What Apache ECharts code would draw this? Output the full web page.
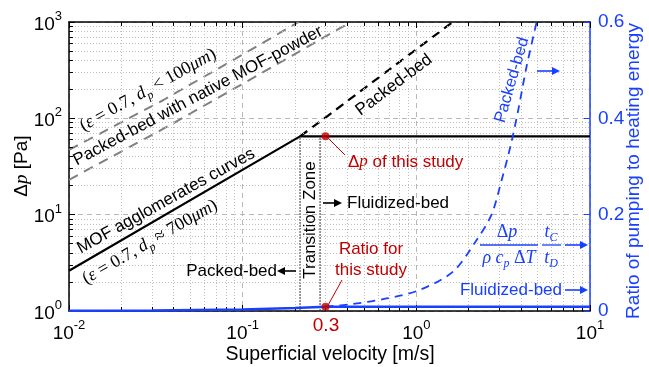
<!DOCTYPE html>
<html><head><meta charset="utf-8">
<script src="https://cdn.jsdelivr.net/npm/echarts@6/dist/echarts.min.js"></script>
<style>html,body{margin:0;padding:0;background:#fff}#c{width:649px;height:367px}</style>
</head><body><div id="c"></div>
<script>
// ---------- data ----------
const xTickValues = [0.01, 0.1, 1, 10];
const yTickValues = [1, 10, 100, 1000];
const ratioTickValues = [0, 0.2, 0.4, 0.6];

const mofAggX  = [0.01, 0.214, 10];
const mofAggDp = [2.62, 65, 65];

const packedBedX  = [0.214, 0.3, 0.5, 0.8, 1.2, 1.62];
const packedBedDp = [65, 102, 204, 385, 666, 1000];

const powderUpperX  = [0.01, 0.035, 0.1, 0.21];
const powderUpperDp = [47, 155, 460, 1000];
const powderLowerX  = [0.01, 0.035, 0.1, 0.42];
const powderLowerDp = [23, 78, 228, 1000];

const ratioPackedX = [0.3, 0.43, 0.675, 1.05, 1.63, 2.22, 2.71, 3.1, 3.5, 3.86, 4.31, 4.93];
const ratioPackedY = [0.009, 0.0145, 0.026, 0.044, 0.082, 0.147, 0.2, 0.272, 0.345, 0.417, 0.507, 0.6];

const ratioFluidX = [0.01, 0.03, 0.1, 0.2, 0.3, 10];
const ratioFluidY = [0.0003, 0.0009, 0.003, 0.006, 0.009, 0.009];

const transitionX = [0.214, 0.279];
const studyVelocity = 0.3;
const studyDp = 65;
const studyRatio = 0.009;

// ---------- styling ----------
const SANS = '"Liberation Sans", Arial, sans-serif';
const SERIF = '"Liberation Serif", "DejaVu Serif", serif';
const BLUE = '#1a40ff';
const RED = '#c00000';
const zip = (a, b) => a.map((v, i) => [v, b[i]]);

// minor grid positions (2..9 within each decade)
const xMinor = [], yMinor = [];
for (let e = -2; e < 1; e++) for (let m = 2; m <= 9; m++) xMinor.push(+(m * Math.pow(10, e)).toPrecision(3));
for (let e = 0; e < 3; e++) for (let m = 2; m <= 9; m++) yMinor.push(m * Math.pow(10, e));
const X0 = 0.01, X1 = 10, Y0 = 1, Y1 = 1000;
const tkY = 1.1;      // minor tick length factor on log y (~4px)
const tkX = 1.054;    // minor tick length factor on log x (~4px)

const minorGridMarks = xMinor.map(v => ({xAxis: v})).concat(yMinor.map(v => ({yAxis: v})));
const minorTickMarks = []
  .concat(xMinor.map(v => [{coord: [v, Y0]}, {coord: [v, Y0 * tkY]}]))
  .concat(xMinor.map(v => [{coord: [v, Y1 / tkY]}, {coord: [v, Y1]}]))
  .concat(yMinor.map(v => [{coord: [X0, v]}, {coord: [X0 * tkX, v]}]));

function supLabel(v) { return '{b|10}{s|' + Math.round(Math.log10(v)) + '}'; }
const supRich = {
  b: {fontSize: 19, fontFamily: SANS, lineHeight: 24, verticalAlign: 'bottom', color: '#000'},
  s: {fontSize: 13, fontFamily: SANS, lineHeight: 24, verticalAlign: 'top', color: '#000'}
};

function mathRich(color, size) {
  return {
    t: {fontSize: size, fontFamily: SERIF, fill: color, lineHeight: 24, verticalAlign: 'middle'},
    i: {fontSize: size, fontFamily: SERIF, fontStyle: 'italic', fill: color, lineHeight: 24, verticalAlign: 'middle'},
    sub: {fontSize: Math.round(size * 0.68), fontFamily: SERIF, fontStyle: 'italic', fill: color, lineHeight: 24, verticalAlign: 'bottom'},
    s: {fontSize: size, fontFamily: SANS, fill: color, lineHeight: 24, verticalAlign: 'middle'}
  };
}

function txt(x, y, text, opt) {
  opt = opt || {};
  return {type: 'text', x: x, y: y, rotation: (opt.rot || 0) * Math.PI / 180, z: 50,
    style: {text: text, fill: opt.color || '#000', fontSize: opt.size || 17, fontFamily: opt.family || SANS,
      fontStyle: opt.style || 'normal', align: opt.align || 'center', verticalAlign: 'middle',
      lineHeight: opt.lh, rich: opt.rich}};
}
function arrow(x1, y1, x2, y2, color) {
  const a = Math.atan2(y2 - y1, x2 - x1), L = 8, W = 4;
  const bx = x2 - L * Math.cos(a), by = y2 - L * Math.sin(a);
  const nx = -Math.sin(a), ny = Math.cos(a);
  return [
    {type: 'line', z: 50, shape: {x1: x1, y1: y1, x2: bx, y2: by}, style: {stroke: color, lineWidth: 1.6}},
    {type: 'polygon', z: 50, shape: {points: [[x2, y2], [bx + nx * W, by + ny * W], [bx - nx * W, by - ny * W]]}, style: {fill: color}}
  ];
}

const chart = echarts.init(document.getElementById('c'), null, {renderer: 'canvas'});

const graphics = [
  txt(394, 85, 'Packed-bed', {rot: 37}),
  txt(166, 201, 'MOF agglomerates curves', {rot: 29}),
  txt(150, 242, '{t|(}{i|ε}{t| = 0.7, }{i|d}{sub|p}{t| ≈ 700}{i|μm}{t|)}', {rot: 30, rich: mathRich('#000', 18)}),
  txt(148, 90, '{t|(}{i|ε}{t| = 0.7, }{i|d}{sub|p}{t| < 100}{i|μm}{t|)}', {rot: 29, rich: mathRich('#000', 18)}),
  txt(198, 96, 'Packed-bed with native MOF-powder', {rot: 28}),
  txt(310, 220, 'Transition Zone', {rot: 90}),
  ...arrow(323, 203, 342, 203, '#000'),
  txt(347, 203, 'Fluidized-bed', {align: 'left'}),
  txt(277, 271, 'Packed-bed', {align: 'right'}),
  ...arrow(296, 271, 277, 271, '#000'),
  {type: 'line', z: 50, shape: {x1: 327, y1: 137, x2: 345, y2: 155}, style: {stroke: RED, lineWidth: 1}},
  txt(348, 162, '{s|Δ}{i|p}{s| of this study}', {align: 'left', rich: mathRich(RED, 17)}),
  {type: 'line', z: 50, shape: {x1: 327, y1: 307, x2: 342, y2: 280}, style: {stroke: RED, lineWidth: 1}},
  txt(371, 260, 'Ratio for\nthis study', {color: RED, lh: 21}),
  txt(512, 80, 'Packed-bed', {rot: 74, color: BLUE, size: 16.5}),
  ...arrow(537, 71, 560, 71, BLUE),
  txt(507, 232, '{t|Δ}{i|p}', {rich: mathRich(BLUE, 18)}),
  {type: 'line', z: 50, shape: {x1: 480, y1: 245, x2: 538, y2: 245}, style: {stroke: BLUE, lineWidth: 1.3}},
  txt(509, 258, '{i|ρ c}{sub|p}{t| Δ}{i|T}', {rich: mathRich(BLUE, 18)}),
  txt(551, 232, '{i|t}{sub|C}', {rich: mathRich(BLUE, 18)}),
  {type: 'line', z: 50, shape: {x1: 542, y1: 245, x2: 561, y2: 245}, style: {stroke: BLUE, lineWidth: 1.3}},
  txt(551, 258, '{i|t}{sub|D}', {rich: mathRich(BLUE, 18)}),
  ...arrow(565, 245, 588, 245, BLUE),
  txt(562, 290, 'Fluidized-bed', {align: 'right', color: BLUE}),
  ...arrow(565, 290, 588, 290, BLUE),
  txt(326, 326, '0.3', {color: RED, size: 19}),
  txt(330, 355, 'Superficial velocity [m/s]', {size: 19.5}),
  txt(22, 166, '{s|Δ}{i|p}{s| [Pa]}', {rot: 90, rich: mathRich('#000', 19)}),
  txt(634, 171, 'Ratio of pumping to heating energy', {rot: 90, color: BLUE, size: 19})
];

const option = {
  animation: false,
  backgroundColor: '#fff',
  grid: {left: 69, right: 59, top: 22, bottom: 56, containLabel: false},
  xAxis: [
    {type: 'log', logBase: 10, min: X0, max: X1, position: 'bottom',
      axisLine: {lineStyle: {color: '#000', width: 1.5}},
      axisTick: {inside: true, length: 6, lineStyle: {color: '#000'}},
      axisLabel: {margin: 8, formatter: supLabel, rich: supRich},
      splitLine: {show: true, lineStyle: {color: '#b8b8b8', type: [5, 4], width: 1}}},
    {type: 'log', logBase: 10, min: X0, max: X1, position: 'top',
      axisLine: {lineStyle: {color: '#000', width: 1.5}},
      axisTick: {inside: true, length: 6, lineStyle: {color: '#000'}},
      axisLabel: {show: false}, splitLine: {show: false}}
  ],
  yAxis: [
    {type: 'log', logBase: 10, min: Y0, max: Y1, position: 'left',
      axisLine: {show: true, lineStyle: {color: '#000', width: 1.5}},
      axisTick: {inside: true, length: 6, lineStyle: {color: '#000'}},
      axisLabel: {margin: 7, formatter: supLabel, rich: supRich},
      splitLine: {show: true, lineStyle: {color: '#b8b8b8', type: [5, 4], width: 1}}},
    {type: 'value', min: 0, max: 0.6, interval: 0.2, position: 'right',
      axisLine: {show: true, lineStyle: {color: BLUE, width: 1.5}},
      axisTick: {inside: true, length: 6, lineStyle: {color: BLUE}},
      axisLabel: {margin: 8, color: BLUE, fontSize: 19, fontFamily: SANS,
        formatter: v => (Math.abs(v) < 1e-9 ? '0' : v.toFixed(1))},
      splitLine: {show: false}}
  ],
  series: [
    {type: 'line', name: 'minorGrid', data: [[X0, Y0]], xAxisIndex: 0, yAxisIndex: 0, showSymbol: false,
      lineStyle: {width: 0}, z: 1, silent: true,
      markLine: {silent: true, symbol: ['none', 'none'], label: {show: false}, animation: false,
        lineStyle: {color: '#c0c0c0', type: [1, 2], width: 1}, emphasis: {disabled: true}, data: minorGridMarks}},
    {type: 'line', name: 'minorTicks', data: [[X0, Y0]], xAxisIndex: 0, yAxisIndex: 0, showSymbol: false,
      lineStyle: {width: 0}, z: 2, silent: true,
      markLine: {silent: true, symbol: ['none', 'none'], label: {show: false}, animation: false,
        lineStyle: {color: '#000', type: 'solid', width: 1}, emphasis: {disabled: true}, data: minorTickMarks}},
    {type: 'line', name: 'powderUpper', data: zip(powderUpperX, powderUpperDp), xAxisIndex: 0, yAxisIndex: 0,
      showSymbol: false, lineStyle: {color: '#808080', width: 2, type: [10, 7]}, z: 3},
    {type: 'line', name: 'powderLower', data: zip(powderLowerX, powderLowerDp), xAxisIndex: 0, yAxisIndex: 0,
      showSymbol: false, lineStyle: {color: '#808080', width: 2, type: [10, 7]}, z: 3},
    {type: 'line', name: 'transition1', data: [[transitionX[0], Y0], [transitionX[0], studyDp]], xAxisIndex: 0, yAxisIndex: 0,
      showSymbol: false, lineStyle: {color: '#333', width: 1, type: [2, 1]}, z: 3},
    {type: 'line', name: 'transition2', data: [[transitionX[1], Y0], [transitionX[1], studyDp]], xAxisIndex: 0, yAxisIndex: 0,
      showSymbol: false, lineStyle: {color: '#333', width: 1, type: [2, 1]}, z: 3},
    {type: 'line', name: 'packedBed', data: zip(packedBedX, packedBedDp), xAxisIndex: 0, yAxisIndex: 0,
      showSymbol: false, lineStyle: {color: '#000', width: 2.2, type: [9, 6]}, z: 4},
    {type: 'line', name: 'mofAgglomerates', data: zip(mofAggX, mofAggDp), xAxisIndex: 0, yAxisIndex: 0,
      showSymbol: false, lineStyle: {color: '#000', width: 2.2}, z: 5},
    {type: 'line', name: 'ratioPacked', data: zip(ratioPackedX, ratioPackedY), xAxisIndex: 0, yAxisIndex: 1,
      showSymbol: false, smooth: 0.3, lineStyle: {color: BLUE, width: 1.8, type: [8, 6]}, z: 5},
    {type: 'line', name: 'ratioFluid', data: zip(ratioFluidX, ratioFluidY), xAxisIndex: 0, yAxisIndex: 1,
      showSymbol: false, lineStyle: {color: BLUE, width: 2.5}, z: 5},
    {type: 'scatter', name: 'studyDp', data: [[studyVelocity, studyDp]], xAxisIndex: 0, yAxisIndex: 0,
      symbolSize: 8, itemStyle: {color: RED}, z: 10},
    {type: 'scatter', name: 'studyRatio', data: [[studyVelocity, studyRatio]], xAxisIndex: 0, yAxisIndex: 1,
      symbolSize: 8, itemStyle: {color: RED}, z: 10}
  ],
  graphic: graphics
};
chart.setOption(option);
</script></body></html>
